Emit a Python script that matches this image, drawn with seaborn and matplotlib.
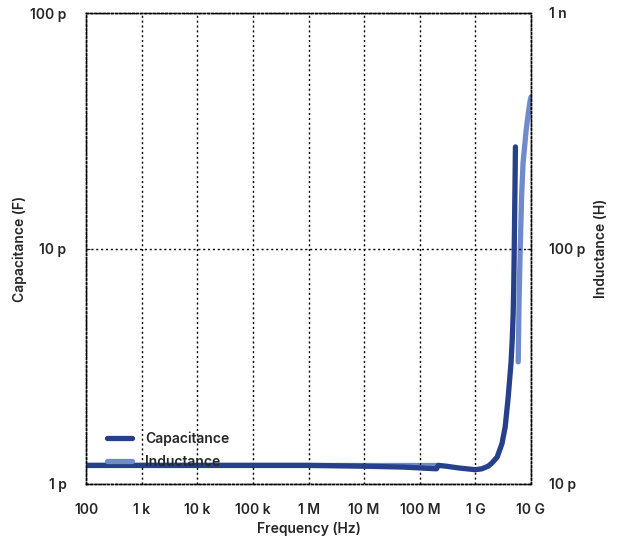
import numpy as np
import pandas as pd
import matplotlib
matplotlib.use('Agg')
import matplotlib.pyplot as plt
import seaborn as sns

# values (Hz, F, H)
cap_freq = [1e2, 1e3, 1e4, 1e5, 1e6, 1e7, 5e7, 1e8, 2.0e8, 2.15e8, 3e8, 5e8, 7e8,
            1.0e9, 1.3e9, 1.7e9, 2.0e9, 2.46e9, 3.0e9, 3.44e9, 3.89e9, 4.37e9,
            4.6e9, 4.78e9, 4.9e9, 5.0e9, 5.1e9, 5.2e9, 5.25e9]
cap_vals = [1.20e-12, 1.20e-12, 1.20e-12, 1.20e-12, 1.20e-12, 1.19e-12, 1.18e-12,
            1.17e-12, 1.16e-12, 1.20e-12, 1.19e-12, 1.17e-12, 1.16e-12,
            1.15e-12, 1.16e-12, 1.19e-12, 1.23e-12, 1.30e-12, 1.48e-12, 1.75e-12,
            2.34e-12, 3.26e-12, 4.1e-12, 5.3e-12, 7.0e-12, 10.1e-12, 15e-12,
            22e-12, 27e-12]

ind_freq = [1e2, 1e3, 1e4, 1e5, 1e6, 1e7, 1e8, 2e8, np.nan,
            5.89e9, 6.1e9, 6.41e9, 6.8e9, 7.2e9, 8.2e9, 9.0e9, 9.7e9, 1e10]
ind_vals = [12e-12, 12e-12, 12e-12, 12e-12, 12e-12, 12e-12, 12e-12, 12e-12, np.nan,
            33e-12, 60e-12, 101e-12, 170e-12, 231e-12, 319e-12, 380e-12, 427e-12, 440e-12]

freq_ticks = [1e2, 1e3, 1e4, 1e5, 1e6, 1e7, 1e8, 1e9, 1e10]
freq_labels = ['100', '1 k', '10 k', '100 k', '1 M', '10 M', '100 M', '1 G', '10 G']
cap_ticks = [1e-12, 1e-11, 1e-10]
cap_labels = ['1 p', '10 p', '100 p']
ind_ticks = [1e-11, 1e-10, 1e-9]
ind_labels = ['10 p', '100 p', '1 n']

dark = '#26408b'
light = '#6f8bcb'

sns.set_style('white')
plt.rcParams['font.family'] = ['Inter', 'DejaVu Sans']

fig = plt.figure(figsize=(6.18, 5.39), dpi=100)
ax = fig.add_axes([86 / 618, 55 / 539, 445 / 618, 471 / 539])
ax2 = ax.twinx()

cap = pd.DataFrame({'f': cap_freq, 'v': cap_vals})
ind = pd.DataFrame({'f': ind_freq, 'v': ind_vals})

# inductance on the twin axis, kept beneath the capacitance line
ind_low = ind.iloc[:8]
ind_high = ind.iloc[9:]
sns.lineplot(data=ind_low, x='f', y='v', ax=ax2, color=light, linewidth=3.8,
             label='Inductance', legend=False)
sns.lineplot(data=ind_high, x='f', y='v', ax=ax2, color=light, linewidth=3.8, legend=False)
sns.lineplot(data=cap, x='f', y='v', ax=ax, color=dark, linewidth=3.8,
             label='Capacitance', legend=False)
ax.set_zorder(ax2.get_zorder() + 1)
ax.patch.set_visible(False)

for a in (ax, ax2):
    a.set_xscale('log')
    a.set_yscale('log')
    a.set_xlim(1e2, 1e10)
    for s in a.spines.values():
        s.set_linestyle((0, (1.5, 1.5)))
        s.set_linewidth(1.0)
        s.set_color('black')

ax.set_ylim(1e-12, 1e-10)
ax2.set_ylim(1e-11, 1e-9)

ax.set_xticks(freq_ticks)
ax.set_xticklabels(freq_labels)
ax.set_yticks(cap_ticks)
ax.set_yticklabels(cap_labels)
ax2.set_yticks(ind_ticks)
ax2.set_yticklabels(ind_labels)
ax.minorticks_off()
ax2.minorticks_off()

ax.grid(True, which='major', color='black', linestyle=(0, (1.5, 2)), linewidth=1.0)
ax.tick_params(axis='both', which='major', length=3, direction='in', width=0.8,
               labelsize=10, pad=14)
ax.tick_params(axis='x', pad=14)
ax2.tick_params(axis='y', which='major', length=3, direction='in', width=0.8,
                labelsize=10, pad=13)
for lab in ax.get_xticklabels() + ax.get_yticklabels() + ax2.get_yticklabels():
    lab.set_fontweight('semibold')

ax.set_xlabel('Frequency (Hz)', fontsize=10, fontweight='semibold', labelpad=3)
ax.set_ylabel('Capacitance (F)', fontsize=10, fontweight='semibold', labelpad=2)
ax2.set_ylabel('Inductance (H)', fontsize=10, fontweight='semibold', labelpad=6)

h1, l1 = ax.get_legend_handles_labels()
h2, l2 = ax2.get_legend_handles_labels()
leg = ax.legend(h1 + h2, l1 + l2, loc='lower left', bbox_to_anchor=(0.02, 0.006),
                frameon=False, fontsize=10, handlelength=1.8, handletextpad=0.9,
                labelspacing=0.6)
for t in leg.get_texts():
    t.set_fontweight('semibold')

fig.savefig('out.png', dpi=100)
